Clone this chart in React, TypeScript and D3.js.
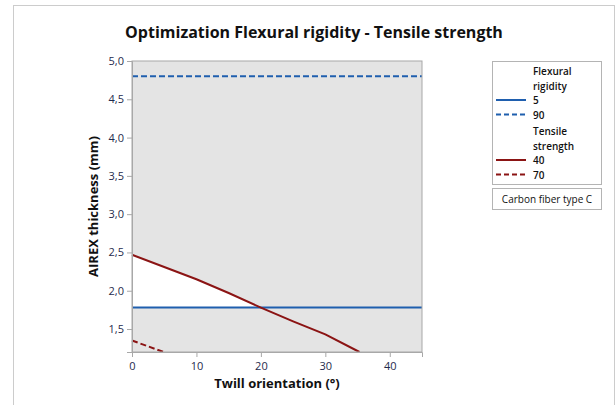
import React, { useEffect, useRef } from 'react';
import * as d3 from 'd3';

// contour lines: [twill orientation, AIREX thickness]
const flex5: [number, number][] = [[0, 1.78], [45, 1.78]];
const flex90: [number, number][] = [[0, 4.8], [45, 4.8]];
const tensile40: [number, number][] = [[0, 2.47], [5, 2.31], [10, 2.15], [15, 1.97], [20, 1.78], [25, 1.6], [30, 1.43], [35.3, 1.2]];
const tensile70: [number, number][] = [[0, 1.35], [4.9, 1.2]];

const xTicks = [0, 10, 20, 30, 40];
const yTicks = [1.5, 2.0, 2.5, 3.0, 3.5, 4.0, 4.5, 5.0];

const legendGroups = [
  { title: ['Flexural', 'rigidity'], color: '#1f5fae', items: ['5', '90'] },
  { title: ['Tensile', 'strength'], color: '#8b1414', items: ['40', '70'] },
];

const font = "'Segoe UI', 'Open Sans', sans-serif";

export default function App() {
  const ref = useRef<SVGSVGElement>(null);

  useEffect(() => {
    const svg = d3.select(ref.current);
    svg.selectAll('*').remove();

    const x = d3.scaleLinear().domain([0, 45]).range([132, 422]);
    const y = d3.scaleLinear().domain([1.2, 5.0]).range([352, 61]);

    // outer frame
    svg.append('rect').attr('x', 13.5).attr('y', 5.5).attr('width', 601).attr('height', 420)
      .attr('fill', 'white').attr('stroke', '#cccccc');

    svg.append('rect').attr('x', x(0)).attr('y', y(5)).attr('width', x(45) - x(0)).attr('height', y(1.2) - y(5))
      .attr('fill', '#e4e4e4');

    // feasible (white) region: under tensile 40, over flexural 5
    const base = flex5[0][1];
    const region: [number, number][] = [];
    for (let i = 0; i < tensile40.length; i++) {
      const p = tensile40[i];
      if (p[1] >= base) region.push(p);
      else {
        const q = tensile40[i - 1];
        const t = (q[1] - base) / (q[1] - p[1]);
        region.push([q[0] + t * (p[0] - q[0]), base]);
        break;
      }
    }
    region.push([0, base]);
    svg.append('path')
      .attr('d', d3.line().x(d => x(d[0])).y(d => y(d[1]))(region) + 'Z')
      .attr('fill', 'white');

    const line = d3.line<[number, number]>().x(d => x(d[0])).y(d => y(d[1]));
    const drawLine = (data: [number, number][], color: string, dash: string | null) => {
      svg.append('path').attr('d', line(data)).attr('fill', 'none')
        .attr('stroke', color).attr('stroke-width', 2).attr('stroke-dasharray', dash);
    };
    drawLine(flex5, legendGroups[0].color, null);
    drawLine(flex90, legendGroups[0].color, '6,3');
    drawLine(tensile40, legendGroups[1].color, null);
    drawLine(tensile70, legendGroups[1].color, '6,3');

    svg.append('rect').attr('x', x(0)).attr('y', y(5)).attr('width', x(45) - x(0)).attr('height', y(1.2) - y(5))
      .attr('fill', 'none').attr('stroke', '#a8a8a8');

    const xAxis = svg.append('g').attr('transform', `translate(0,${y(1.2)})`)
      .call(d3.axisBottom(x).tickValues(xTicks).tickSize(5).tickPadding(5));
    const yAxis = svg.append('g').attr('transform', `translate(${x(0)},0)`)
      .call(d3.axisLeft(y).tickValues(yTicks).tickSize(5).tickPadding(3)
        .tickFormat(d => d3.format('.1f')(d as number).replace('.', ',')));
    [xAxis, yAxis].forEach(a => {
      a.select('.domain').attr('stroke', '#a8a8a8');
      a.selectAll('.tick line').attr('stroke', '#a8a8a8');
      a.selectAll('.tick text').attr('fill', '#1f2b4d').attr('font-size', 11).attr('font-family', font);
    });

    svg.append('text').attr('x', 314).attr('y', 38).attr('text-anchor', 'middle')
      .attr('font-family', font).attr('font-size', 16).attr('font-weight', 'bold').attr('fill', '#111')
      .text('Optimization Flexural rigidity - Tensile strength');

    svg.append('text').attr('x', 277).attr('y', 388).attr('text-anchor', 'middle')
      .attr('font-family', font).attr('font-size', 13).attr('font-weight', 'bold').attr('fill', '#111')
      .text('Twill orientation (°)');

    svg.append('text').attr('transform', `translate(98,${(y(5) + y(1.2)) / 2}) rotate(-90)`)
      .attr('text-anchor', 'middle')
      .attr('font-family', font).attr('font-size', 13).attr('font-weight', 'bold').attr('fill', '#111')
      .text('AIREX thickness (mm)');

    // legend
    svg.append('rect').attr('x', 492.5).attr('y', 61.5).attr('width', 109).attr('height', 123)
      .attr('fill', 'white').attr('stroke', '#b4b4b4');
    let ly = 75;
    legendGroups.forEach(g => {
      g.title.forEach(t => {
        svg.append('text').attr('x', 533).attr('y', ly).attr('font-family', font).attr('font-size', 10)
          .attr('font-weight', 600).attr('fill', '#111').text(t);
        ly += 14.5;
      });
      g.items.forEach((it, i) => {
        svg.append('line').attr('x1', 496).attr('x2', 526).attr('y1', ly - 4).attr('y2', ly - 4)
          .attr('stroke', g.color).attr('stroke-width', 2).attr('stroke-dasharray', i === 1 ? '5,3' : null);
        svg.append('text').attr('x', 533).attr('y', ly).attr('font-family', font).attr('font-size', 10)
          .attr('font-weight', 600).attr('fill', '#111').text(it);
        ly += 14.5;
      });
      ly += 2;
    });

    svg.append('rect').attr('x', 492.5).attr('y', 188.5).attr('width', 109).attr('height', 21)
      .attr('fill', 'white').attr('stroke', '#b4b4b4');
    svg.append('text').attr('x', 547).attr('y', 203).attr('text-anchor', 'middle')
      .attr('font-family', font).attr('font-size', 10).attr('fill', '#111')
      .text('Carbon fiber type  C');
  }, []);

  return (
    <svg ref={ref} width={616} height={405}
      style={{ position: 'absolute', left: 0, top: 0, display: 'block' }} />
  );
}
